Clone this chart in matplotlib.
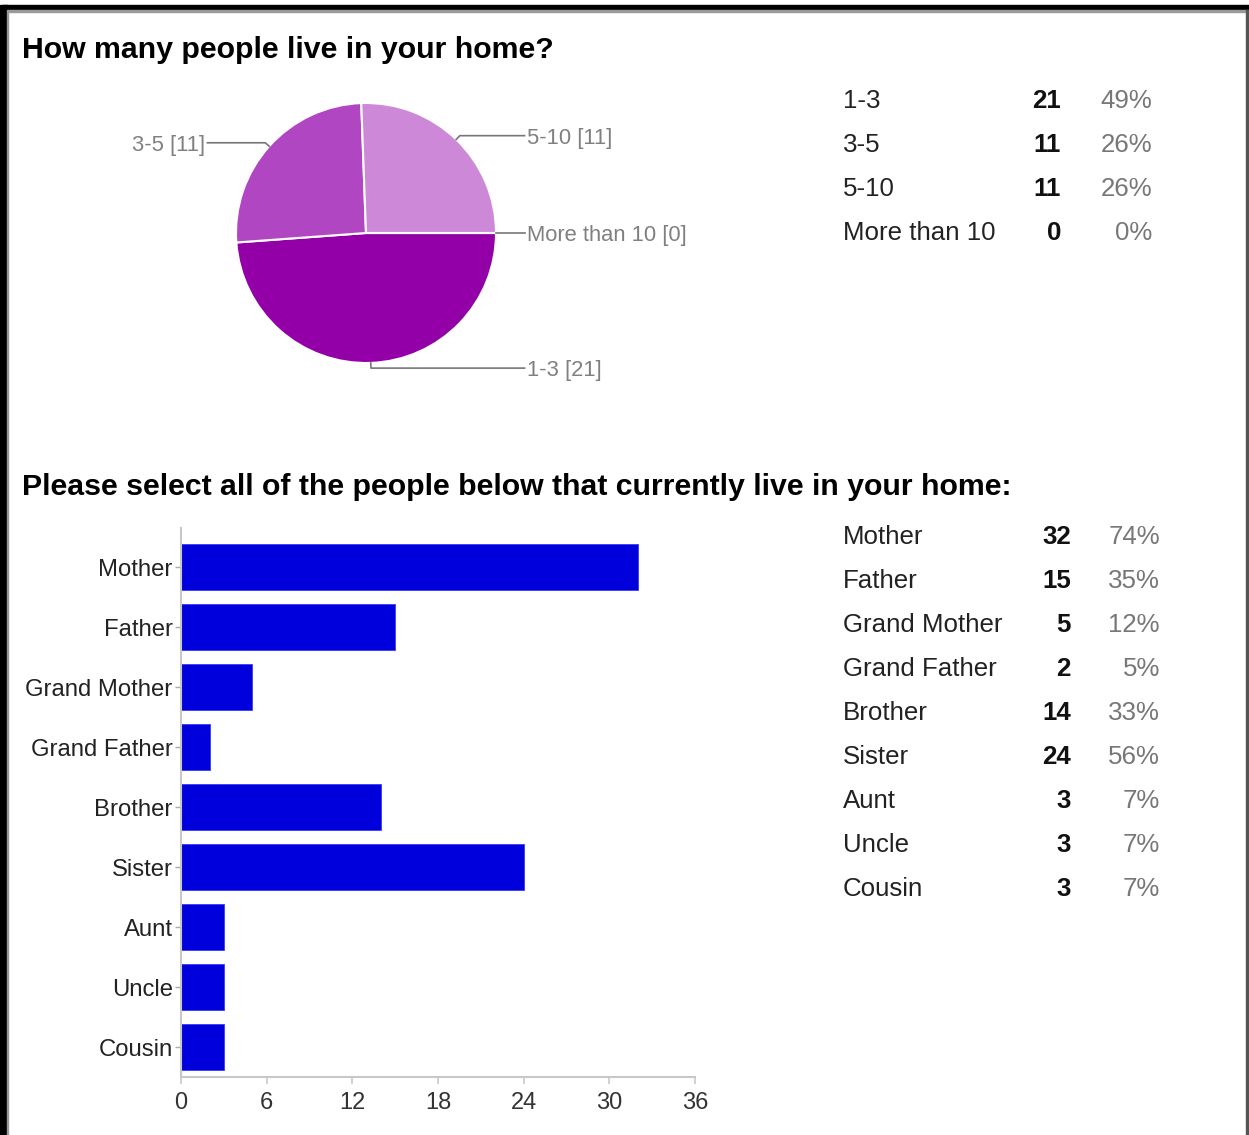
import numpy as np
import matplotlib
matplotlib.use("Agg")
import matplotlib.pyplot as plt
from matplotlib.patches import Rectangle

plt.rcParams['font.family'] = ['Liberation Sans', 'DejaVu Sans']

# household size question
size_labels = ["1-3", "3-5", "5-10", "More than 10"]
size_counts = [21, 11, 11, 0]
size_pcts = ["49%", "26%", "26%", "0%"]
size_colors = ["#9400a8", "#b146c2", "#cd88d8", "#e6c3ec"]

# who lives in the home question
member_labels = ["Mother", "Father", "Grand Mother", "Grand Father", "Brother",
                 "Sister", "Aunt", "Uncle", "Cousin"]
member_counts = [32, 15, 5, 2, 14, 24, 3, 3, 3]
member_pcts = ["74%", "35%", "12%", "5%", "33%", "56%", "7%", "7%", "7%"]
x_ticks = [0, 6, 12, 18, 24, 30, 36]

W, H = 1249, 1135
fig = plt.figure(figsize=(W / 100, H / 100), dpi=100, facecolor="white")


def px_axes(x0, y0, x1, y1):
    return fig.add_axes([x0 / W, 1 - y1 / H, (x1 - x0) / W, (y1 - y0) / H])


# background layer in pixel coordinates for frame, titles and tables
bg = px_axes(0, 0, W, H)
bg.set_xlim(0, W)
bg.set_ylim(H, 0)
bg.axis("off")
bg.add_patch(Rectangle((3, 5), W - 3, 5, color="black"))
bg.add_patch(Rectangle((3, 10), W - 3, 1.5, color="#9a9a9a"))
bg.add_patch(Rectangle((0, 5), 7, H - 5, color="black"))
bg.add_patch(Rectangle((7, 10), 1, H - 10, color="#9a9a9a"))
bg.add_patch(Rectangle((1246.5, 10), 1.5, H - 10, color="#555555"))

title_kw = dict(fontsize=21.8, fontweight="bold", color="black", va="center_baseline",
                ha="left")
bg.text(22, 47, "How many people live in your home?", **title_kw)
bg.text(22, 484, "Please select all of the people below that currently live in your home:",
        **title_kw)


def draw_table(top, num_right, pct_right, labels, counts, pcts):
    for i, (lab, cnt, pct) in enumerate(zip(labels, counts, pcts)):
        y = top + 44 * i
        bg.text(843, y, lab, fontsize=18.6, color="#222222", va="center_baseline", ha="left")
        bg.text(num_right, y, str(cnt), fontsize=18.6, fontweight="bold", color="#111111",
                va="center_baseline", ha="right")
        bg.text(pct_right, y, pct, fontsize=18.6, color="#777777", va="center_baseline",
                ha="right")


draw_table(98, 1061, 1152, size_labels, size_counts, size_pcts)
draw_table(534, 1071, 1160, member_labels, member_counts, member_pcts)

# pie chart, starting at 3 o'clock and going clockwise
pie_ax = px_axes(236, 103, 496, 363)
wedges, _ = pie_ax.pie(size_counts, colors=size_colors, startangle=0, counterclock=False,
                       radius=1, wedgeprops=dict(edgecolor="white", linewidth=1.5))
pie_ax.set_xlim(-1, 1)
pie_ax.set_ylim(-1, 1)

for w, lab, cnt in zip(wedges, size_labels, size_counts):
    mid = np.deg2rad((w.theta1 + w.theta2) / 2)
    ax0, ay0 = np.cos(mid), np.sin(mid)
    ex, ey = 1.04 * ax0, 1.04 * ay0
    right = ax0 >= -0.01
    end_x = 1.22 if right else -1.22
    pie_ax.plot([ax0, ex, end_x], [ay0, ey, ey], color="#777777", lw=1.2, clip_on=False)
    pie_ax.text(end_x + (0.02 if right else -0.02), ey, f"{lab} [{cnt}]", fontsize=15.8,
                color="#808080", va="center_baseline", ha="left" if right else "right")

# horizontal bar chart
bar_ax = px_axes(181, 528, 695, 1077)
pos = np.arange(len(member_labels))
bar_ax.barh(pos, member_counts, height=0.78, color="#0000dc", edgecolor="#3a3aff",
            linewidth=0.6)
bar_ax.set_ylim(len(member_labels) - 0.5, -0.65)
bar_ax.set_xlim(0, 36)
bar_ax.set_yticks(pos)
bar_ax.set_yticklabels(member_labels)
bar_ax.set_xticks(x_ticks)
for s in ("top", "right"):
    bar_ax.spines[s].set_visible(False)
for s in ("left", "bottom"):
    bar_ax.spines[s].set_color("#c8c8c8")
    bar_ax.spines[s].set_linewidth(1.5)
bar_ax.tick_params(axis="y", length=4, width=1, color="#aaaaaa", pad=2,
                   labelsize=17.2, labelcolor="#222222")
bar_ax.tick_params(axis="x", length=5, width=1.2, color="#c8c8c8", pad=6,
                   labelsize=17, labelcolor="#333333")

fig.savefig("out.png", dpi=100, facecolor="white")
